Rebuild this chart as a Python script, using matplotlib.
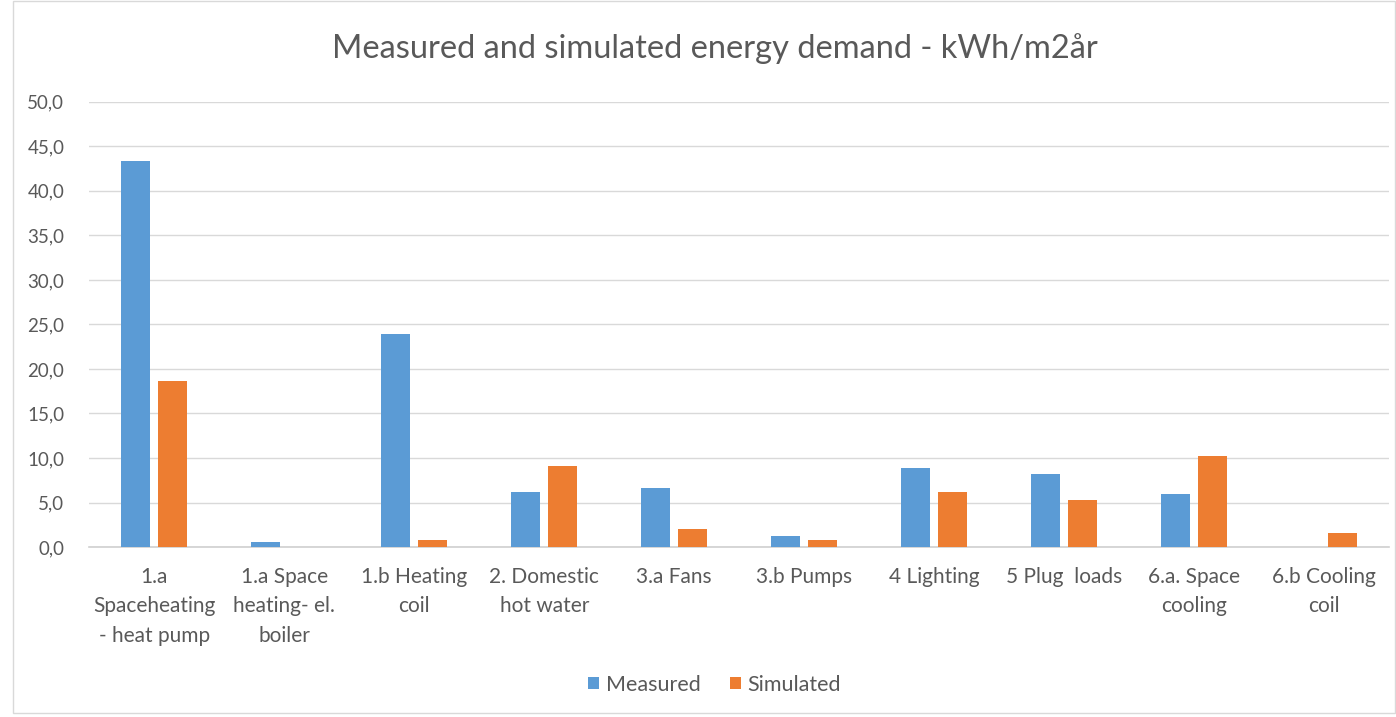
import matplotlib.pyplot as plt
import numpy as np
from matplotlib.patches import Rectangle

plt.rcParams['font.family'] = ['Lato', 'DejaVu Sans']

categories = [
    "1.a\nSpaceheating\n- heat pump",
    "1.a Space\nheating- el.\nboiler",
    "1.b Heating\ncoil",
    "2. Domestic\nhot water",
    "3.a Fans",
    "3.b Pumps",
    "4 Lighting",
    "5 Plug  loads",
    "6.a. Space\ncooling",
    "6.b Cooling\ncoil",
]
measured = [43.3, 0.6, 23.9, 6.2, 6.6, 1.2, 8.9, 8.2, 6.0, 0.0]
simulated = [18.6, 0.0, 0.8, 9.1, 2.0, 0.8, 6.2, 5.3, 10.2, 1.6]
yticks = [0, 5, 10, 15, 20, 25, 30, 35, 40, 45, 50]

BLUE = "#5b9bd5"
ORANGE = "#ed7d31"
TEXT = "#595959"

fig = plt.figure(figsize=(13.96, 7.17), dpi=100)
ax = fig.add_axes([0.064, 0.237, 0.931, 0.621])

# chart-area frame
fig.patches.append(Rectangle((0.009, 0.006), 0.99, 0.993, transform=fig.transFigure,
                             fill=False, edgecolor="#d9d9d9", linewidth=1.0))

x = np.arange(len(categories))
w = 0.223
gap = 0.06
ax.bar(x - (w + gap) / 2, measured, w, color=BLUE, label="Measured", zorder=3)
ax.bar(x + (w + gap) / 2, simulated, w, color=ORANGE, label="Simulated", zorder=3)

ax.set_xlim(-0.5, len(categories) - 0.5)
ax.set_ylim(0, 50)
ax.set_yticks(yticks)
ax.set_yticklabels([f"{v:.1f}".replace(".", ",") for v in yticks], color=TEXT, fontsize=13.5)
ax.yaxis.grid(True, color="#d9d9d9", linewidth=1.0, zorder=0)
ax.tick_params(axis="y", length=0, pad=18)
ax.tick_params(axis="x", length=0, pad=14)
ax.set_xticks(x)
ax.set_xticklabels(categories, color=TEXT, fontsize=15, linespacing=1.62)

for s in ["top", "right", "left"]:
    ax.spines[s].set_visible(False)
ax.spines["bottom"].set_color("#d0d0d0")
ax.spines["bottom"].set_linewidth(1.2)

fig.text(0.512, 0.933, "Measured and simulated energy demand - kWh/m2år",
         ha="center", va="center", fontsize=23.5, color=TEXT)

fig.legend(loc="center", bbox_to_anchor=(0.512, 0.045), ncol=2, frameon=False,
           fontsize=15.5, handlelength=0.5, handleheight=0.5, handletextpad=0.3,
           columnspacing=1.4, labelcolor=TEXT)

fig.savefig("out.png", dpi=100)
